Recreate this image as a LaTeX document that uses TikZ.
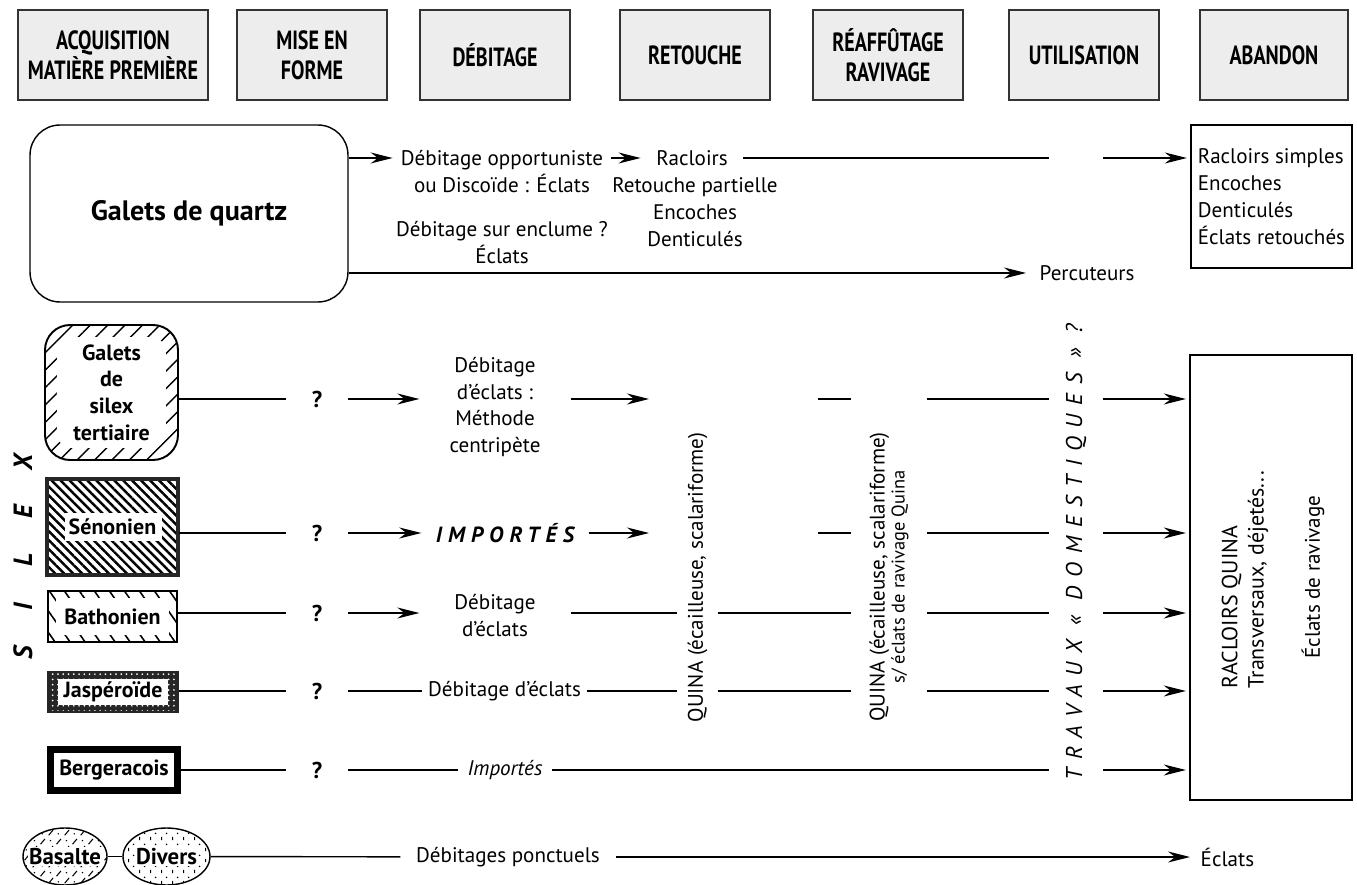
\documentclass[tikz,border=0pt]{standalone}
\usepackage{fontspec}
\setmainfont{PT Sans}
\newfontfamily\phasefont{PT Sans}[FakeStretch=0.76]
\usetikzlibrary{arrows.meta, positioning, patterns.meta, shapes.geometric}

\tikzdeclarepattern{
  name=basaltfill, type=uncolored,
  bounding box={(0pt,0pt) and (9pt,9pt)}, tile size={(9pt,9pt)},
  code={
    \draw[line width=0.6pt] (1pt,1pt) -- (3.5pt,4pt);
    \draw[line width=0.6pt] (5.5pt,5pt) -- (8pt,8pt);
    \fill (6.5pt,1.8pt) circle (0.45pt);
    \fill (2pt,7pt) circle (0.45pt);
  }}
\tikzdeclarepattern{
  name=diversfill, type=uncolored,
  bounding box={(0pt,0pt) and (6pt,6pt)}, tile size={(6pt,6pt)},
  code={
    \draw[line width=0.6pt] (1.5pt,0.5pt) -- (1.5pt,2.5pt);
    \fill (4.5pt,4.5pt) circle (0.5pt);
  }}

\begin{document}
\begin{tikzpicture}[x=0.02cm, y=-0.02cm, line width=0.8pt,
    phase/.style={draw=black!80, line width=0.9pt, fill=black!7, minimum width=3cm, minimum height=1.8cm, align=center, font=\phasefont\bfseries\fontsize{15}{17}\selectfont},
    txt/.style={align=center, inner sep=1pt, font=\fontsize{12}{15.3}\selectfont},
    matbox/.style={align=center, inner sep=1pt, font=\bfseries\fontsize{12.5}{15.2}\selectfont},
    qmark/.style={minimum width=1.2cm, inner sep=0pt, font=\bfseries\fontsize{13}{15}\selectfont},
    vtext/.style={rotate=90, align=center, inner sep=0pt, font=\fontsize{12}{11.5}\selectfont},
    silexl/.style={rotate=90, inner sep=0pt, font=\bfseries\itshape\fontsize{15}{15}\selectfont},
    arrow/.style={-{Stealth[length=4.4mm, width=2.2mm]}},
    tertbox/.style={matbox, draw, line width=1.1pt, rounded corners=0.5cm, minimum width=2.66cm, minimum height=2.7cm,
      pattern={Lines[angle=45, distance=7pt, line width=0.8pt]},
      path picture={\fill[white, rounded corners=0.3cm] ([shift={(0.24cm,0.24cm)}]path picture bounding box.south west) rectangle ([shift={(-0.24cm,-0.24cm)}]path picture bounding box.north east);}},
    senbox/.style={matbox, draw=black!85, line width=2.5pt, minimum width=2.61cm, minimum height=1.91cm,
      pattern={Lines[angle=-45, distance=3.6pt, line width=1.4pt]},
      path picture={\fill[white] ([shift={(-0.95cm,-0.29cm)}]path picture bounding box.center) rectangle ([shift={(1cm,0.29cm)}]path picture bounding box.center);}},
    bathbox/.style={matbox, draw, minimum width=2.58cm, minimum height=1.02cm,
      pattern={Lines[angle=-55, distance=7pt, line width=0.9pt]},
      path picture={\fill[white] ([shift={(0.16cm,0.14cm)}]path picture bounding box.south west) rectangle ([shift={(-0.16cm,-0.14cm)}]path picture bounding box.north east);}},
    jaspbox/.style={matbox, draw=black!85, line width=1.2pt, minimum width=2.6cm, minimum height=0.8cm,
      preaction={fill=black!85}, pattern={Dots[distance=3pt, radius=0.55pt]}, pattern color=white,
      path picture={\fill[white] ([shift={(0.2cm,0.13cm)}]path picture bounding box.south west) rectangle ([shift={(-0.2cm,-0.13cm)}]path picture bounding box.north east);}},
    bergbox/.style={matbox, draw, line width=4pt, fill=white, minimum width=2.54cm, minimum height=0.82cm},
    stone/.style={draw, ellipse, inner sep=0pt, minimum height=1.14cm}
]
\fill[white] (0,0) rectangle (1357,885);
\useasboundingbox (0,0) rectangle (1357,885);

% Phases
\node[phase, minimum width=3.8cm] (acq) at (113,55) {ACQUISITION\\MATIÈRE PREMIÈRE};
\node[phase] (mef) at (312,55) {MISE EN\\FORME};
\node[phase] (deb) at (495,55) {DÉBITAGE};
\node[phase] (ret) at (695,55) {RETOUCHE};
\node[phase] (rea) at (888,55) {RÉAFFÛTAGE\\RAVIVAGE};
\node[phase] (uti) at (1084,55) {UTILISATION};
\node[phase, minimum width=2.96cm] (aba) at (1274,55) {ABANDON};

% Galets de quartz
\node[draw, rounded corners=0.6cm, minimum width=6.36cm, minimum height=3.54cm, font=\bfseries\fontsize{16}{18}\selectfont] (quartz) at (189,213.5) {Galets de quartz};
\node[txt, inner xsep=0.15cm] (dq) at (502,171.5) {Débitage opportuniste\\ou Discoïde : Éclats};
\node[txt, inner xsep=0.3cm] (rac) at (692,158) {Racloirs};
\node[txt] (racb) at (695,212) {Retouche partielle\\Encoches\\Denticulés};
\node[txt] (enc) at (502,242.5) {Débitage sur enclume ?\\Éclats};
\node[txt, anchor=west, inner xsep=0.26cm] (perc) at (1026,273) {Percuteurs};
\node[txt, draw, align=left, minimum width=3.22cm, minimum height=2.86cm] (rsimp) at (1271.5,196.5) {Racloirs simples\\Encoches\\Denticulés\\Éclats retouchés};

% Silex
\foreach \ch/\yy in {S/653, I/607, L/560, E/512, X/462}
  \node[silexl] (silex-\ch) at (23,\yy) {\ch};
\node[tertbox] (tert) at (111.5,392.5) {Galets\\de\\silex\\tertiaire};
\node[senbox] (sen) at (112.5,527) {Sénonien};
\node[bathbox] (bath) at (112.5,616.5) {Bathonien};
\node[jaspbox] (jasp) at (113,692) {Jaspéroïde};
\node[bergbox] (berg) at (114,770) {Bergeracois};

% Autres roches
\node[stone, minimum width=1.68cm, pattern=basaltfill] (bas) at (65,856.5) {};
\node[matbox, fill=white, inner sep=0.5pt, font=\bfseries\fontsize{13}{15}\selectfont] (bas-t) at (bas) {Basalte};
\node[stone, minimum width=1.74cm, pattern=diversfill] (div) at (166.5,856.5) {};
\node[matbox, fill=white, inner sep=0.5pt, font=\bfseries\fontsize{13}{15}\selectfont] (div-t) at (div) {Divers};

\node[qmark] (q1) at (317,399) {?};
\node[qmark] (q2) at (317,533) {?};
\node[qmark] (q3) at (317,613) {?};
\node[qmark] (q4) at (317,691) {?};
\node[qmark] (q5) at (317,770) {?};

\node[txt, minimum width=3cm] (t1) at (495,407) {Débitage\\d'éclats :\\Méthode\\centripète};
\node[txt, inner xsep=0.28cm, font=\bfseries\itshape\fontsize{12.5}{15}\selectfont\addfontfeature{LetterSpace=28}] (imp) at (505,533) {IMPORTÉS};
\node[txt, minimum width=3cm] (t3) at (495,615.5) {Débitage\\d'éclats};
\node[txt, inner xsep=3pt] (t4) at (504.5,691) {Débitage d'éclats};
\node[txt, inner xsep=0.17cm, font=\itshape\fontsize{12}{15}\selectfont] (t5) at (505,770) {Importés};
\node[txt, inner xsep=0.3cm] (dp) at (508,857) {Débitages ponctuels};

% Colonnes verticales
\node[vtext, minimum height=0.78cm] (quina1) at (697.5,577.5) {QUINA (écailleuse, scalariforme)};
\node[vtext, minimum height=1.48cm] (quina2) at (889,577) {QUINA (écailleuse, scalariforme)\\{\fontsize{10.5}{11.5}\selectfont s/ éclats de ravivage Quina}};
\node[vtext, minimum height=1.04cm, font=\itshape\fontsize{13}{14}\selectfont\addfontfeature{LetterSpace=38}] (trav) at (1076,552) {TRAVAUX « DOMESTIQUES » ?};

% Abandon
\node[draw, minimum width=3.24cm, minimum height=8.9cm] (racq) at (1271,577.5) {};
\node[vtext, align=left, anchor=west, font=\fontsize{12.5}{14.8}\selectfont] (racq-t) at (1245,689) {RACLOIRS QUINA\\Transversaux, déjetés...};
\node[vtext] (racq-e) at (1313,577) {Éclats de ravivage};
\node[txt, anchor=west, inner xsep=0.2cm] (ecl) at (1190,857) {Éclats};

\coordinate (qa) at (649,0);
\coordinate (dsh) at (818,0);

% Liaisons quartz
\draw[arrow] (quartz.east |- rac) -- (dq.west |- rac);
\draw[arrow] (dq.east |- rac) -- (rac);
\draw (rac) -- (trav.north |- rac);
\draw[arrow, shorten >=2pt] (trav.south |- rac) -- (rac -| rsimp.west);
\draw[arrow] (quartz.east |- perc) -- (perc);

% Galets de silex tertiaire
\draw (q1 -| tert.east) -- (q1);
\draw[arrow] (q1) -- (q1 -| t1.west);
\draw[arrow] (q1 -| t1.east) -- (q1 -| qa);
\draw (q1 -| dsh) -- (q1 -| quina2.north);
\draw (q1 -| quina2.south) -- (q1 -| trav.north);
\draw[arrow, shorten >=2pt] (q1 -| trav.south) -- (q1 -| racq.west);

% Senonien
\draw (q2 -| sen.east) -- (q2);
\draw[arrow] (q2) -- (imp);
\draw[arrow] (imp) -- (q2 -| qa);
\draw (q2 -| dsh) -- (q2 -| quina2.north);
\draw (q2 -| quina2.south) -- (q2 -| trav.north);
\draw[arrow, shorten >=2pt] (q2 -| trav.south) -- (q2 -| racq.west);

% Bathonien
\draw (q3 -| bath.east) -- (q3);
\draw[arrow] (q3) -- (q3 -| t3.west);
\draw (q3 -| t3.east) -- (q3 -| quina1.north);
\draw (q3 -| quina1.south) -- (q3 -| quina2.north);
\draw (q3 -| quina2.south) -- (q3 -| trav.north);
\draw[arrow, shorten >=2pt] (q3 -| trav.south) -- (q3 -| racq.west);

% Jasperoide
\draw (q4 -| jasp.east) -- (q4);
\draw (q4) -- (t4);
\draw (t4) -- (q4 -| quina1.north);
\draw (q4 -| quina1.south) -- (q4 -| quina2.north);
\draw (q4 -| quina2.south) -- (q4 -| trav.north);
\draw[arrow, shorten >=2pt] (q4 -| trav.south) -- (q4 -| racq.west);

% Bergeracois
\draw (q5 -| berg.east) -- (q5);
\draw (q5) -- (t5);
\draw (t5) -- (q5 -| trav.north);
\draw[arrow, shorten >=2pt] (q5 -| trav.south) -- (q5 -| racq.west);

% Basalte, divers
\draw (bas) -- (div);
\draw (div) -- (dp);
\draw[arrow] (dp) -- (ecl);

\end{tikzpicture}
\end{document}
